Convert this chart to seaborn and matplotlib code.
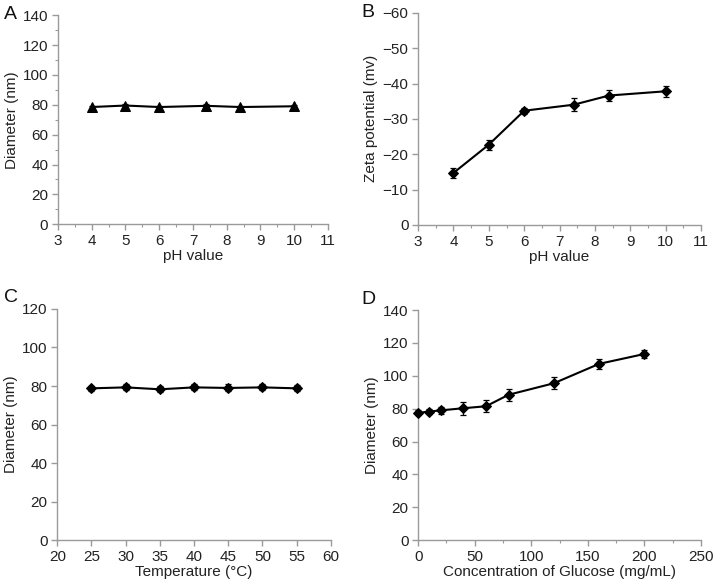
import matplotlib
matplotlib.use("Agg")
import matplotlib.pyplot as plt
import seaborn as sns
import pandas as pd
from matplotlib.ticker import MultipleLocator

sns.set_theme(style="white")
plt.rcParams['font.family'] = ['Liberation Sans', 'DejaVu Sans']

# Panel A: pH vs diameter
ph_a = [4, 5, 6, 7.4, 8.4, 10]
diam_a = [78.5, 79.5, 78.5, 79.3, 78.5, 79.0]
err_a = [1.0, 1.0, 1.0, 1.0, 1.0, 1.0]

# Panel B: pH vs zeta potential
ph_b = [4, 5, 6, 7.4, 8.4, 10]
zeta_b = [-14.7, -22.7, -32.3, -34.0, -36.6, -37.8]
err_b = [1.4, 1.4, 0.9, 1.8, 1.5, 1.5]

# Panel C: temperature vs diameter
temp_c = [25, 30, 35, 40, 45, 50, 55]
diam_c = [78.8, 79.3, 78.3, 79.3, 79.0, 79.3, 78.8]
err_c = [1.2, 1.5, 1.5, 1.5, 1.8, 1.5, 1.5]

# Panel D: glucose concentration vs diameter
conc_d = [0, 10, 20, 40, 60, 80, 120, 160, 200]
diam_d = [77.5, 78.3, 79.0, 80.3, 81.5, 88.5, 95.5, 107.3, 113.3]
err_d = [1.5, 1.8, 2.0, 4.0, 3.5, 3.8, 3.5, 3.2, 2.5]

fig = plt.figure(figsize=(7.16, 5.84), dpi=100)
axA = fig.add_axes([0.081, 0.616, 0.377, 0.358])
axB = fig.add_axes([0.584, 0.615, 0.395, 0.363])
axC = fig.add_axes([0.080, 0.075, 0.382, 0.396])
axD = fig.add_axes([0.584, 0.075, 0.395, 0.394])

axcol = '#9a9a9a'
fs = 11

def draw(ax, x, y, e, marker, ms):
    df = pd.DataFrame({'x': x, 'y': y})
    ax.errorbar(x, y, yerr=e, fmt='none', ecolor='black', elinewidth=0.9,
                capsize=2.5, capthick=0.9, zorder=3, clip_on=False)
    sns.lineplot(data=df, x='x', y='y', ax=ax, color='black', linewidth=1.5,
                 marker=marker, markersize=ms, markeredgecolor='black',
                 markerfacecolor='black', zorder=4, clip_on=False)

def style(ax, xlabel, ylabel):
    for s in ['top', 'right']:
        ax.spines[s].set_visible(False)
    for s in ['left', 'bottom']:
        ax.spines[s].set_color(axcol)
        ax.spines[s].set_linewidth(1.0)
    ax.tick_params(axis='both', which='major', direction='out', length=4,
                   width=1, color=axcol, labelsize=fs, labelcolor='#222222',
                   left=True, bottom=True, pad=3)
    ax.tick_params(axis='both', which='minor', direction='out', length=2.5,
                   width=0.8, color=axcol, left=True, bottom=True)
    ax.set_xlabel(xlabel, fontsize=fs, color='#222222', labelpad=1)
    ax.set_ylabel(ylabel, fontsize=fs, color='#222222', labelpad=3)
    ax.grid(False)

draw(axA, ph_a, diam_a, err_a, '^', 6.5)
axA.set_xlim(3, 11)
axA.set_ylim(0, 140)
axA.xaxis.set_major_locator(MultipleLocator(1))
axA.xaxis.set_minor_locator(MultipleLocator(0.5))
axA.yaxis.set_major_locator(MultipleLocator(20))
axA.yaxis.set_minor_locator(MultipleLocator(10))
style(axA, 'pH value', 'Diameter (nm)')

draw(axB, ph_b, zeta_b, err_b, 'D', 5)
axB.set_xlim(3, 11)
axB.set_ylim(0, -60)
axB.xaxis.set_major_locator(MultipleLocator(1))
axB.xaxis.set_minor_locator(MultipleLocator(0.5))
axB.set_yticks([0, -10, -20, -30, -40, -50, -60])
axB.set_yticklabels(['0', '\u221210', '\u221220', '\u221230', '\u221240', '\u221250', '\u221260'])
style(axB, 'pH value', 'Zeta potential (mv)')

draw(axC, temp_c, diam_c, err_c, 'D', 5)
axC.set_xlim(20, 60)
axC.set_ylim(0, 120)
axC.xaxis.set_major_locator(MultipleLocator(5))
axC.yaxis.set_major_locator(MultipleLocator(20))
style(axC, 'Temperature (\u00b0C)', 'Diameter (nm)')

draw(axD, conc_d, diam_d, err_d, 'D', 5)
axD.set_xlim(0, 250)
axD.set_ylim(0, 140)
axD.xaxis.set_major_locator(MultipleLocator(50))
axD.xaxis.set_minor_locator(MultipleLocator(25))
axD.yaxis.set_major_locator(MultipleLocator(20))
style(axD, 'Concentration of Glucose (mg/mL)', 'Diameter (nm)')

for lbl, x, y in [('A', 0.005, 0.975), ('B', 0.505, 0.978), ('C', 0.005, 0.49), ('D', 0.505, 0.487)]:
    fig.text(x, y, lbl, fontsize=14, color='#111111', ha='left', va='center')

fig.savefig('out.png', dpi=100)
